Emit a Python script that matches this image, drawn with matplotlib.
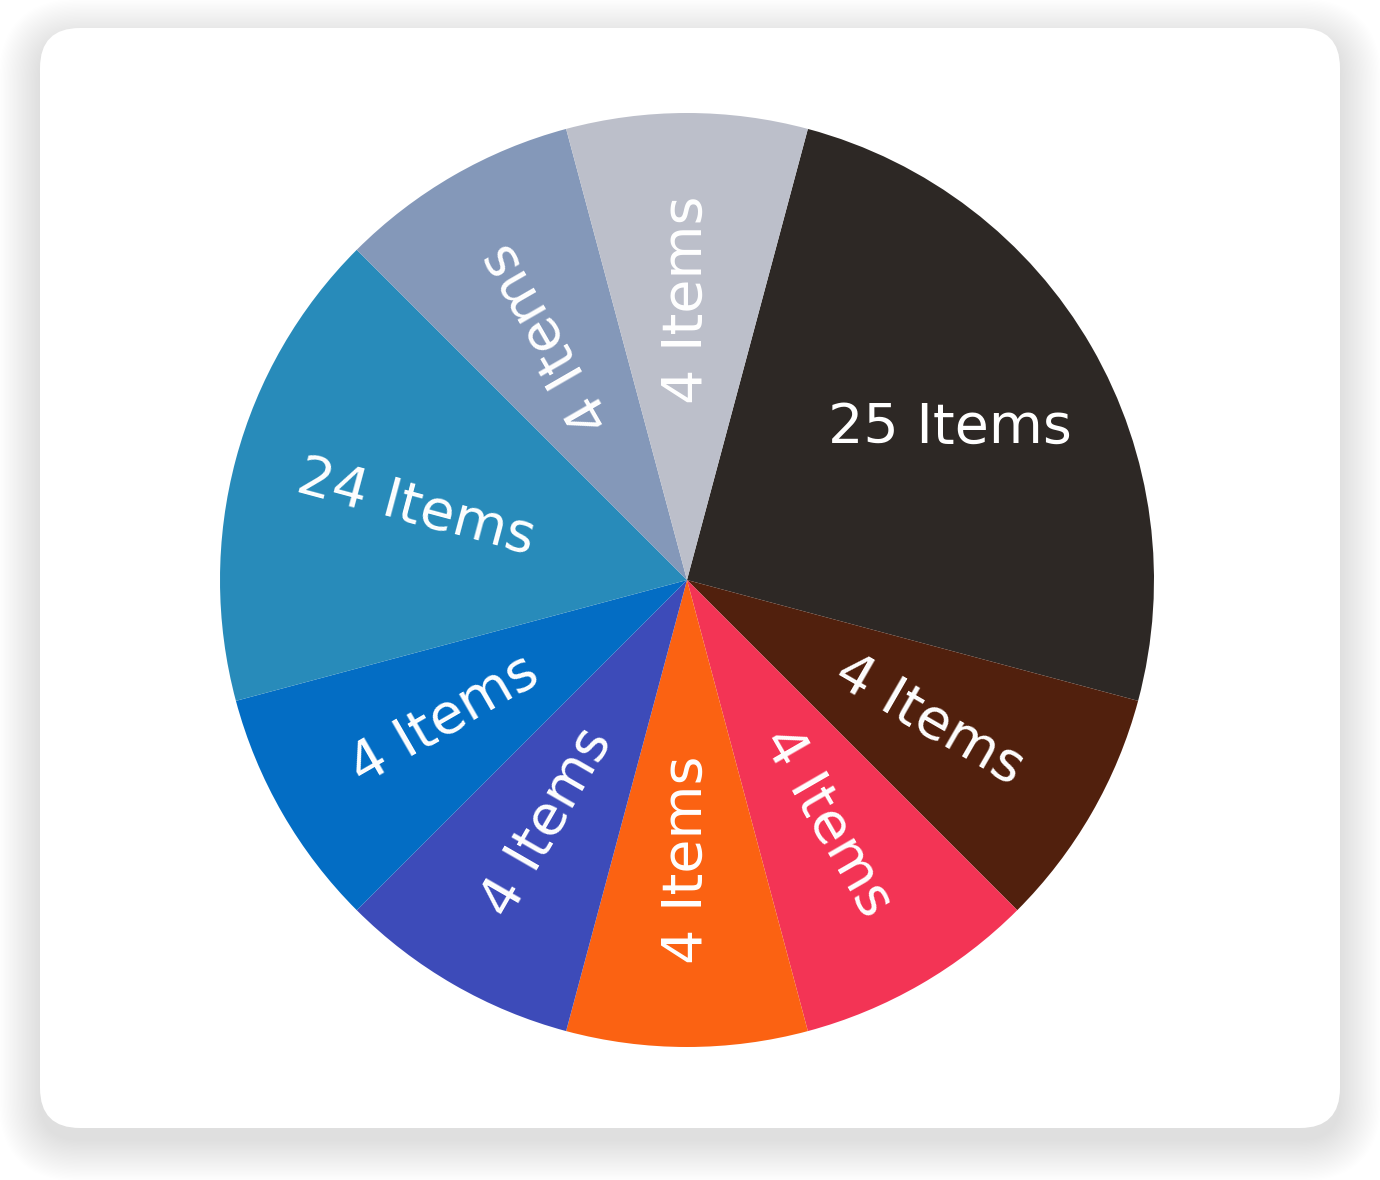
import matplotlib
matplotlib.use("Agg")
import matplotlib.pyplot as plt
from matplotlib.patches import FancyBboxPatch
import numpy as np

# ---- data (clockwise from the top-right) ----
categories = ["A", "B", "C", "D", "E", "F", "G", "H", "I"]
item_counts = [25, 4, 4, 4, 4, 4, 24, 4, 4]
slice_share = [3, 1, 1, 1, 1, 1, 2, 1, 1]
labels = [f"{n} Items" for n in item_counts]
colors = ["#2d2825", "#51200d", "#f33455", "#fb6212", "#3d4bb9",
          "#036dc4", "#288bba", "#8498b9", "#bcbfca"]
radial_label = [False, True, True, True, True, True, True, True, True]

W, H = 1380, 1180
fig = plt.figure(figsize=(W / 100, H / 100), dpi=100)
fig.patch.set_facecolor("white")

# background card with soft shadow
bg = fig.add_axes([0, 0, 1, 1])
bg.set_xlim(0, W)
bg.set_ylim(H, 0)
bg.axis("off")
cx0, cy0, cw, ch, rr = 40, 28, 1300, 1100, 40
n_sh = 32
for i in range(n_sh):
    g = 1 + i * 1.3
    bg.add_patch(FancyBboxPatch((cx0 - g, cy0 - g + 12), cw + 2 * g, ch + 2 * g,
                                boxstyle=f"round,pad=0,rounding_size={rr + g}",
                                facecolor="black", edgecolor="none",
                                alpha=0.0055, zorder=1))
bg.add_patch(FancyBboxPatch((cx0, cy0), cw, ch,
                            boxstyle=f"round,pad=0,rounding_size={rr}",
                            facecolor="white", edgecolor="none", zorder=2))

# pie
pcx, pcy, R = 687, 580, 467
ax = fig.add_axes([(pcx - R) / W, (H - pcy - R) / H, 2 * R / W, 2 * R / H])
wedges, _ = ax.pie(slice_share, colors=colors, startangle=75, counterclock=False,
                   radius=1, wedgeprops=dict(linewidth=0, antialiased=True))
ax.set_xlim(-1, 1)
ax.set_ylim(-1, 1)
ax.set_aspect("equal")
ax.axis("off")

for w, lab, rad in zip(wedges, labels, radial_label):
    mid = ((w.theta1 + w.theta2) / 2) % 360
    if rad:
        r = 0.60
        rot = mid - 180 if 150 <= mid <= 270 else mid
    else:
        r = 0.65
        rot = 0
    x = r * np.cos(np.radians(mid))
    y = r * np.sin(np.radians(mid))
    ax.text(x, y, lab, ha="center", va="center", rotation=rot,
            rotation_mode="anchor", color="white", fontsize=40,
            family="DejaVu Sans")

fig.savefig("out.png", dpi=100, facecolor="white")
